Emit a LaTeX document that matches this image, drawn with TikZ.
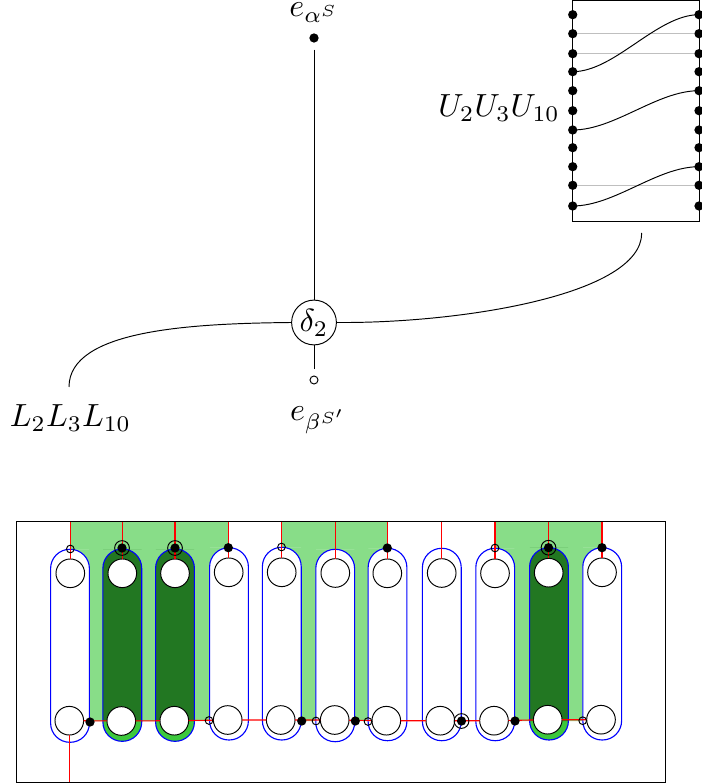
\documentclass[tikz,border=0pt]{standalone}
\usepackage{amsmath,amssymb}
\usepackage{xcolor}
\usetikzlibrary{positioning,calc}
\definecolor{lightgr}{HTML}{88DD88}
\definecolor{midgr}{HTML}{3CC83C}
\definecolor{darkgr}{HTML}{227722}
\tikzset{
  dot/.style={circle,fill=black,inner sep=0pt,minimum size=2.9pt},
  hollow/.style={circle,draw=black,inner sep=0pt,minimum size=2.4pt},
  opendot/.style={circle,draw=black,fill=white,inner sep=0pt,minimum size=2.5pt},
  ring/.style={circle,draw=black,inner sep=0pt,minimum size=4.6pt},
  port/.style={circle,draw=black,fill=white,inner sep=0pt,outer sep=0pt,minimum size=8.95pt},
  wire/.style={draw=red,line width=0.35pt},
  outline/.style={draw=blue,line width=0.35pt,rounded corners=6pt},
  strand/.style={to path={.. controls +(42,0) and +(-42,0) .. (\tikztotarget)}}
}
\begin{document}
\begin{tikzpicture}[x=0.3125pt,y=-0.3125pt,line width=0.3pt]
\useasboundingbox (0,0) rectangle (701,784);
% top half
\node (delta) at (314,322.5) [circle,draw,inner sep=0pt,minimum size=14pt] {$\delta_2$};
\node (ealpha) at (314,38) [dot,label={[inner sep=0pt,label distance=3pt]above:$e_{\alpha^S}$}] {};
\node (ebeta) at (314,380) [opendot,label={[xshift=1.4pt,label distance=3.5pt]below:$e_{\beta^{S'}}$}] {};
\draw [shorten <=2pt] (ealpha) -- (delta);
\draw [shorten <=2pt] (ebeta) -- (delta);
\coordinate (Uend) at (641.7,233);
\coordinate (Lend) at (69,387);
\draw (delta.east) .. controls (460,323.5) and (641.7,295) .. (Uend);
\draw (delta.west) .. controls (190,323.5) and (69,330) .. (Lend);
\node (Llabel) at (70.5,418) {$L_2L_3L_{10}$};
\node (Ulabel) at (499,108) {$U_2U_3U_{10}$};
% the box
\draw (572.7,0.5) rectangle (699.5,221.3);
\foreach \n/\y in {1/14.7,2/33.7,3/53.7,4/71.7,5/90.7,6/110.7,7/130,8/147.7,9/166.7,10/185.3,11/206} {
  \node (l\n) at (572.7,\y) [dot] {};
  \node (r\n) at (699,\y) [dot] {};
}
\foreach \n in {2,3,10}
  \draw [black!25] (l\n) -- (r\n);
\draw (l4.center) to[strand] (r1.center);
\draw (l7.center) to[strand] (r5.center);
\draw (l11.center) to[strand] (r9.center);
% green regions
\fill [lightgr] (70.3,522) -- (228.5,522) -- (228.5,568) -- (209.7,568) -- (209.7,721) -- (89.3,721) -- (89.3,568) -- (70.3,568) -- cycle;
\fill [lightgr] (281.7,522) -- (387.3,522) -- (387.3,568) -- (368,568) -- (368,721) -- (301.3,721) -- (301.3,568) -- (281.7,568) -- cycle;
\fill [lightgr] (495,522) -- (602,522) -- (602,568) -- (582.7,568) -- (582.7,721) -- (514.7,721) -- (514.7,568) -- (495,568) -- cycle;
% capsules: centre, top, bottom, lower colour, upper colour
\foreach \cx/\ctop/\cbot/\low/\up in {70/549.3/742.3/white/white,122.3/549/741.3/midgr/darkgr,175/549/741.3/midgr/darkgr,
    229/547.7/740/white/white,281.8/547.3/740/white/white,335.2/549.3/741.7/white/white,387.5/548.3/740.7/white/white,
    441.8/548.3/740.7/white/white,495.2/548.3/740.7/white/white,549/547.7/740/midgr/darkgr,602.2/547.7/740/white/white} {
  \fill [\low,rounded corners=6pt] ({\cx-19.4},\ctop) rectangle ({\cx+19.4},\cbot);
  \fill [\up] ({\cx-19.4},721) [rounded corners=6pt] |- (\cx,\ctop) -| ({\cx+19.4},721);
  \draw [outline] ({\cx-19.4},\ctop) rectangle ({\cx+19.4},\cbot);
}
% frame
\draw (16,521.5) rectangle (665,782);
\coordinate (frametop) at (0,521.5);
\coordinate (framebot) at (0,782);
% ports
\foreach \n/\tx/\ty/\bx/\by in {1/70.3/573.3/69.3/720.7,2/122.3/573.3/121.3/721,3/175/573.3/174.3/720.7,4/228.7/572.3/227.7/720,
    5/281.7/572.3/280.7/720,6/335.3/573/334.7/720,7/387.3/573.3/386.3/720.7,8/441.7/573/440.3/720.7,
    9/495/573.3/494/720.7,10/548.7/572.7/547.7/719.7,11/602/572.3/601/719.7} {
  \node (t\n) at (\tx,\ty) [port] {};
  \node (b\n) at (\bx,\by) [port] {};
}
\foreach \n in {1,...,11}
  \draw [wire] (t\n) -- (t\n |- frametop);
\draw [wire] (b1) -- (b1 |- framebot);
\draw [wire] (b1) -- (b2) -- (b3) -- (b4) -- (b5) -- (b6) -- (b7) -- (b8) -- (b9) -- (b10) -- (b11);
% markers
\foreach \x/\y in {122/548,175/548,461.5/721,548.5/547.7}
  \node at (\x,\y) [ring] {};
\foreach \x/\y in {122/548,175/548,228.3/547.7,387.3/548,548.5/547.7,602/547.7,90/722,301.7/721,355.3/721,461.5/721,515/721}
  \node at (\x,\y) [dot] {};
\foreach \x/\y in {70.3/549,281.5/547,495/548,209/720.5,316/721,368/721.5,582.7/720.7}
  \node at (\x,\y) [hollow] {};
\end{tikzpicture}
\end{document}
